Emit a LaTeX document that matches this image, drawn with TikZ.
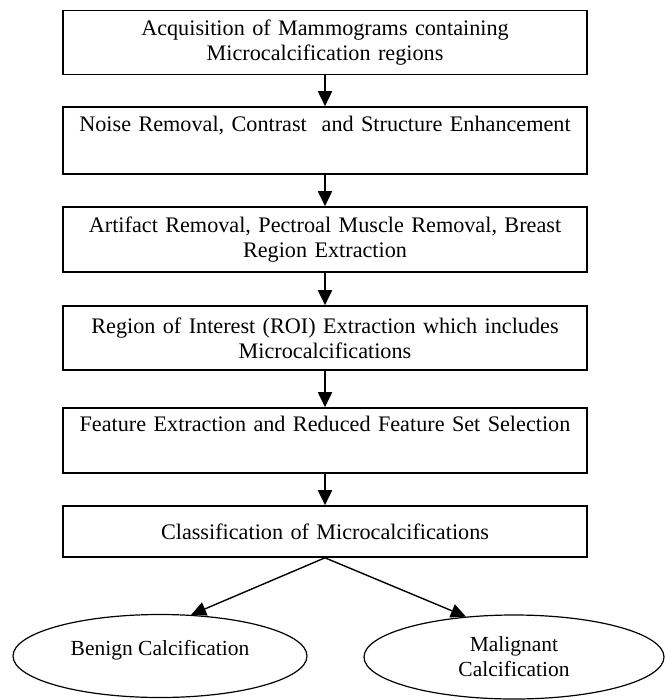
\documentclass[tikz,border=0pt]{standalone}
\usepackage{fontspec}
\setmainfont{Liberation Serif}
\usetikzlibrary{shapes.geometric,arrows.meta}

\tikzset{
  stage/.style={draw,line width=1.6pt,minimum width=524pt,minimum height=64pt,
    text width=514pt,align=center,inner sep=0pt,font=\fontsize{22.2}{25}\selectfont},
  outcome/.style={draw,ellipse,line width=1.2pt,inner sep=0pt,align=center,
    font=\fontsize{21.5}{25}\selectfont},
  flow/.style={line width=1.8pt,-{Triangle[length=15pt,width=14pt]}}
}

\begin{document}
\begin{tikzpicture}[x=1pt,y=-1pt]
\useasboundingbox (0,0) rectangle (664,700);

\node[stage] (acq) at (325,42.5) {Acquisition of Mammograms containing\\Microcalcification regions};
\node[stage,minimum height=67pt] (noise) at (325,140.5) {Noise Removal, Contrast\ \ and Structure Enhancement\\\strut};
\node[stage,minimum height=65pt] (artifact) at (325,239.5) {Artifact Removal, Pectroal Muscle Removal, Breast\\Region Extraction};
\node[stage] (roi) at (325,338) {Region of Interest (ROI) Extraction which includes\\Microcalcifications};
\node[stage,minimum height=65pt] (feature) at (325,440.5) {Feature Extraction and Reduced Feature Set Selection\\\strut};
\node[stage,minimum height=51pt] (classify) at (325,531.5) {Classification of Microcalcifications};

\node[outcome,minimum width=294pt,minimum height=83pt] (benign) at (160,656) {Benign Calcification\\[-8pt]};
\node[outcome,minimum width=300pt,minimum height=84pt] (malignant) at (514,657) {Malignant\\Calcification};

\draw[flow] (acq) -- (noise);
\draw[flow] (noise) -- (artifact);
\draw[flow] (artifact) -- (roi);
\draw[flow] (roi) -- (feature);
\draw[flow] (feature) -- (classify);

\draw[flow,line width=1.4pt] (classify.south) -- (benign.53);
\draw[flow,line width=1.4pt] (classify.south) -- (malignant.140);
\end{tikzpicture}
\end{document}
